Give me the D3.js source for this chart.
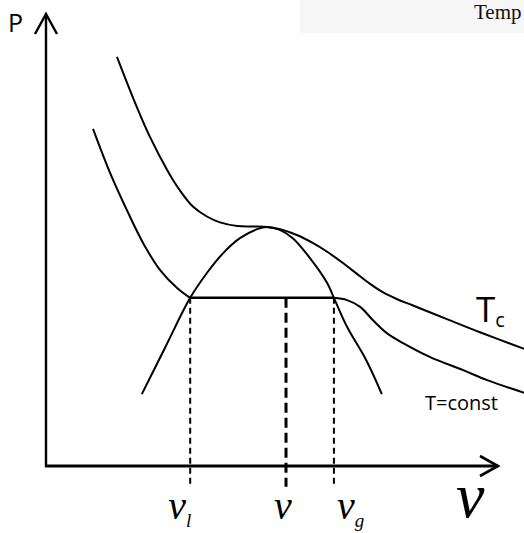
<!DOCTYPE html>
<html>
<head>
<meta charset="utf-8">
<script src="https://cdn.jsdelivr.net/npm/d3@7"></script>
<style>
  html, body { margin: 0; padding: 0; background: #fff; }
  svg { display: block; }
</style>
</head>
<body>
<svg id="chart" width="524" height="533"></svg>
<script>
// P–v diagram of a real fluid: critical isotherm, a subcritical isotherm
// with its two-phase tie line, and the coexistence dome.

// Critical isotherm T_c  [v, P]
const criticalIsotherm = [
  [15.7, 90.5], [19.2, 81.6], [23.0, 72.8], [26.8, 65.5], [29.6, 61.0],
  [32.5, 57.4], [35.6, 55.2], [38.5, 53.9], [42.3, 53.1], [45.8, 53.0],
  [48.9, 52.9], [51.8, 52.4], [55.5, 51.1], [59.1, 49.3], [62.2, 47.4],
  [65.7, 44.9], [68.8, 42.5], [71.7, 40.3], [74.6, 38.4], [77.7, 36.9],
  [81.2, 35.5], [88.7, 32.5], [96.0, 29.6], [105.8, 25.9]
];

// Subcritical isotherm, liquid branch
const liquidBranch = [
  [10.4, 74.6], [14.2, 64.8], [17.9, 56.6], [21.5, 49.3], [25.2, 43.4],
  [29.0, 39.4], [31.9, 37.2]
];

// Subcritical isotherm, vapour branch
const vapourBranch = [
  [63.7, 37.2], [66.6, 36.7], [69.5, 35.2], [72.3, 32.3], [75.4, 29.4],
  [79.0, 27.2], [85.0, 24.1], [92.3, 21.2], [97.6, 19.0], [105.8, 16.2]
];

// Coexistence (saturation) dome
const dome = [
  [21.2, 15.9], [26.5, 26.5], [31.9, 37.2], [35.6, 42.7], [39.2, 47.1],
  [42.9, 50.4], [46.7, 52.4], [48.9, 52.9], [51.6, 52.3], [54.6, 50.4],
  [58.4, 46.0], [62.2, 40.5], [63.7, 37.2], [66.6, 30.8], [70.8, 23.5],
  [74.3, 15.9]
];

// Saturation pressure of the tie line and the marked volumes
const saturationPressure = 37.2;
const markedVolumes = [
  { v: 31.9, main: "v", sub: "l" },
  { v: 53.1, main: "v", sub: "" },
  { v: 63.7, main: "v", sub: "g" }
];
const axisLabelX = "v";
const axisLabelY = "P";
const isothermLabels = { critical: ["T", "c"], sub: "T=const" };
const headerText = "Temp";

const svg = d3.select("#chart");
const W = 524, H = 533;

const x = d3.scaleLinear().domain([0, 100]).range([46, 498]);
const y = d3.scaleLinear().domain([0, 100]).range([466, 14]);

svg.append("rect").attr("width", W).attr("height", H).attr("fill", "#fff");

const sans = "'Open Sans', 'Noto Sans', sans-serif";
const serif = "'Liberation Serif', 'Times New Roman', serif";

// header strip in the top-right corner
svg.append("rect")
  .attr("x", 300).attr("y", 0).attr("width", W - 300).attr("height", 33)
  .attr("fill", "#f6f6f6");
svg.append("text")
  .attr("x", 474).attr("y", 19)
  .attr("font-family", serif)
  .attr("font-size", 21).attr("fill", "#111")
  .text(headerText);

const line = d3.line()
  .x(d => x(d[0])).y(d => y(d[1]))
  .curve(d3.curveCatmullRom.alpha(0.5));

const curves = svg.append("g")
  .attr("fill", "none").attr("stroke", "#000").attr("stroke-width", 2);

curves.append("path").attr("d", line(criticalIsotherm));
curves.append("path").attr("d", line(liquidBranch));
curves.append("path").attr("d", line(vapourBranch));
curves.append("path").attr("d", line(dome));

// tie line across the two-phase region
svg.append("line")
  .attr("x1", x(markedVolumes[0].v)).attr("x2", x(markedVolumes[2].v))
  .attr("y1", y(saturationPressure)).attr("y2", y(saturationPressure))
  .attr("stroke", "#000").attr("stroke-width", 2.5);

// dashed drop lines to the volume axis (the middle one is drawn heavier)
const yBelow = y(-4.6);
svg.append("g").selectAll("line")
  .data(markedVolumes)
  .join("line")
  .attr("x1", d => x(d.v)).attr("x2", d => x(d.v))
  .attr("y1", y(saturationPressure)).attr("y2", yBelow)
  .attr("stroke", "#000")
  .attr("stroke-width", (d, i) => i === 1 ? 3 : 2)
  .attr("stroke-dasharray", (d, i) => i === 1 ? "10,5" : "6,4");

// axes with arrowheads
const axes = svg.append("g")
  .attr("fill", "none").attr("stroke", "#000")
  .attr("stroke-linecap", "butt");
const xEnd = x(100), yTop = y(100);
axes.append("line")
  .attr("x1", x(0)).attr("x2", x(0)).attr("y1", y(0) + 1).attr("y2", yTop)
  .attr("stroke-width", 2.4);
axes.append("line")
  .attr("x1", x(0) - 1).attr("x2", xEnd).attr("y1", y(0)).attr("y2", y(0))
  .attr("stroke-width", 3);
axes.append("path")
  .attr("d", `M${x(0) - 11},${yTop + 20} L${x(0)},${yTop} L${x(0) + 11},${yTop + 20}`)
  .attr("stroke-width", 2.4);
axes.append("path")
  .attr("d", `M${xEnd - 18},${y(0) - 10} L${xEnd},${y(0)} L${xEnd - 18},${y(0) + 10}`)
  .attr("stroke-width", 2.6);

// axis labels
svg.append("text")
  .attr("x", 8).attr("y", 32)
  .attr("font-family", sans).attr("font-size", 25)
  .text(axisLabelY);
svg.append("text")
  .attr("x", x(100) - 42).attr("y", 517)
  .attr("font-family", serif).attr("font-style", "italic").attr("font-size", 64)
  .text(axisLabelX);

// volume labels under the drop lines
const labelShift = [-22, -12, 3];
const vl = svg.append("g")
  .attr("font-family", serif).attr("font-style", "italic");
markedVolumes.forEach((d, i) => {
  const t = vl.append("text")
    .attr("x", x(d.v) + labelShift[i]).attr("y", 519)
    .attr("font-size", 40);
  t.append("tspan").text(d.main);
  if (d.sub) {
    t.append("tspan").attr("font-size", 19).attr("dy", 8).text(d.sub);
  }
});

// isotherm labels
const tc = svg.append("text")
  .attr("x", 476).attr("y", 322)
  .attr("font-family", sans).attr("font-size", 35);
tc.append("tspan").text(isothermLabels.critical[0]);
tc.append("tspan").attr("font-size", 20).attr("dy", 5).text(isothermLabels.critical[1]);

svg.append("text")
  .attr("x", 425).attr("y", 410)
  .attr("font-family", sans).attr("font-size", 20)
  .text(isothermLabels.sub);
</script>
</body>
</html>
